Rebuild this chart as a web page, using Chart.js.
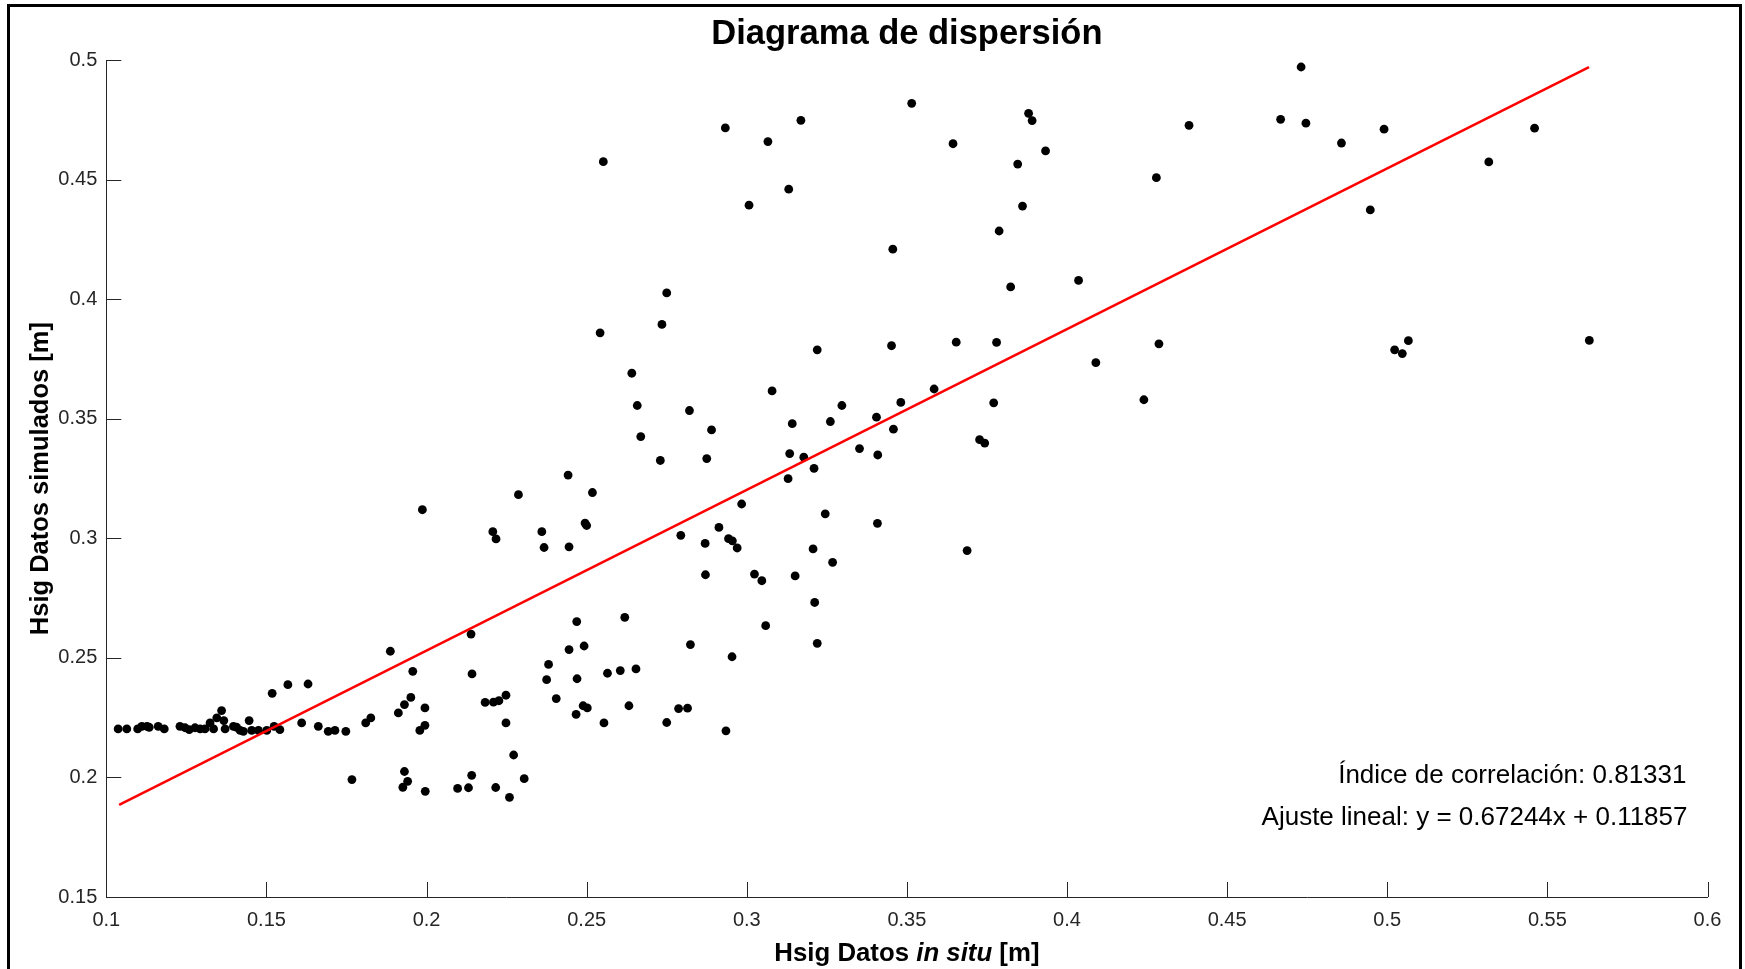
<!DOCTYPE html>
<html>
<head>
<meta charset="utf-8">
<title>Diagrama de dispersión</title>
<script src="https://cdn.jsdelivr.net/npm/chart.js@4.4.1/dist/chart.umd.min.js"></script>
<style>
  html, body { margin: 0; padding: 0; background: #fff; overflow: hidden; }
  #wrap { position: relative; width: 1745px; height: 969px; overflow: hidden; }
  #frame { position: absolute; left: 7px; top: 4px; width: 1735px; height: 1000px;
           border: 3px solid #000; box-sizing: border-box; pointer-events: none; }
  canvas { position: absolute; left: 0; top: 0; }
</style>
</head>
<body>
<div id="wrap">
  <canvas id="scatter" width="1745" height="969"></canvas>
  <div id="frame"></div>
</div>
<script>
"use strict";

/* ============================================================
   DATA
============================================================ */
const xTickLabels = ['0.1', '0.15', '0.2', '0.25', '0.3', '0.35', '0.4', '0.45', '0.5', '0.55', '0.6'];
const yTickLabels = ['0.15', '0.2', '0.25', '0.3', '0.35', '0.4', '0.45', '0.5'];

// [Hsig in situ, Hsig simulado]
const pointsUpper = [
  [0.3515, 0.4820], [0.2933, 0.4717], [0.3169, 0.4749], [0.3066, 0.4660], [0.2552, 0.4576],
  [0.3131, 0.4461], [0.3007, 0.4394], [0.3456, 0.4210], [0.2750, 0.4027], [0.2735, 0.3895],
  [0.2542, 0.3860], [0.3220, 0.3789], [0.3452, 0.3806], [0.2641, 0.3691], [0.3079, 0.3617],
  [0.2658, 0.3556], [0.2821, 0.3535], [0.3297, 0.3556], [0.3481, 0.3569], [0.2669, 0.3426],
  [0.2890, 0.3454], [0.3142, 0.3480], [0.3261, 0.3489], [0.3405, 0.3507], [0.3458, 0.3457],
  [0.2730, 0.3326], [0.2875, 0.3334], [0.3134, 0.3355], [0.3178, 0.3340], [0.3352, 0.3376],
  [0.3409, 0.3349], [0.3210, 0.3293], [0.3129, 0.3250], [0.2442, 0.3265]
];

const pointsRight = [
  [0.4731, 0.4972], [0.3880, 0.4778], [0.3891, 0.4748], [0.3644, 0.4651], [0.3933, 0.4621],
  [0.3846, 0.4566], [0.4381, 0.4728], [0.4667, 0.4753], [0.4746, 0.4737], [0.4279, 0.4509],
  [0.3861, 0.4390], [0.3788, 0.4286], [0.3824, 0.4052], [0.4036, 0.4079], [0.3654, 0.3821],
  [0.3780, 0.3820], [0.4287, 0.3814], [0.4090, 0.3735], [0.3585, 0.3625], [0.3771, 0.3567],
  [0.4240, 0.3580], [0.3727, 0.3413], [0.3743, 0.3399], [0.3688, 0.2949],
  [0.4857, 0.4654], [0.4990, 0.4712], [0.5460, 0.4716], [0.5317, 0.4575], [0.4947, 0.4374],
  [0.5066, 0.3827], [0.5023, 0.3789], [0.5047, 0.3773], [0.5631, 0.3828]
];

const pointsMiddle = [
  [0.2287, 0.3183], [0.2518, 0.3192], [0.2984, 0.3144], [0.2360, 0.3028], [0.2367, 0.2962],
  [0.2445, 0.2965], [0.2495, 0.3064], [0.2500, 0.3054], [0.2794, 0.3013], [0.2913, 0.3046],
  [0.2870, 0.2979], [0.2943, 0.2999], [0.2955, 0.2990], [0.2970, 0.2960], [0.3207, 0.2956],
  [0.3245, 0.3103], [0.3408, 0.3063], [0.3268, 0.2900], [0.2871, 0.2848], [0.3024, 0.2851],
  [0.3047, 0.2823], [0.3151, 0.2843], [0.3212, 0.2732], [0.3059, 0.2635], [0.3220, 0.2561],
  [0.2469, 0.2652], [0.2619, 0.2670], [0.2824, 0.2556], [0.2445, 0.2535], [0.2492, 0.2550],
  [0.2954, 0.2505], [0.2381, 0.2473], [0.2375, 0.2409], [0.2470, 0.2413], [0.2565, 0.2436],
  [0.2605, 0.2447], [0.2654, 0.2454], [0.2248, 0.2344], [0.2405, 0.2330], [0.2467, 0.2264],
  [0.2489, 0.2300], [0.2502, 0.2291], [0.2632, 0.2300], [0.2248, 0.2228], [0.2554, 0.2228],
  [0.2750, 0.2230], [0.2787, 0.2288], [0.2815, 0.2290], [0.2935, 0.2195], [0.2272, 0.2094],
  [0.2305, 0.1995], [0.2259, 0.1917]
];

const pointsLowLeft = [
  [0.1987, 0.3120], [0.2207, 0.3028], [0.2217, 0.2998], [0.2139, 0.2600], [0.1887, 0.2528],
  [0.1957, 0.2444], [0.2142, 0.2433], [0.1518, 0.2352], [0.1567, 0.2388], [0.1630, 0.2391],
  [0.1951, 0.2335], [0.1931, 0.2305], [0.1912, 0.2270], [0.1995, 0.2291], [0.2183, 0.2314],
  [0.2209, 0.2315], [0.2226, 0.2321], [0.1979, 0.2197], [0.1995, 0.2218], [0.1767, 0.1991],
  [0.1931, 0.2025], [0.1941, 0.1984], [0.1926, 0.1959], [0.1996, 0.1942], [0.2097, 0.1954],
  [0.2131, 0.1957], [0.2141, 0.2009], [0.2216, 0.1958]
];

const pointsBaseline = [
  [0.1037, 0.2203], [0.1064, 0.2203], [0.1098, 0.2203], [0.1111, 0.2214], [0.1127, 0.2214],
  [0.1134, 0.2210], [0.1162, 0.2214], [0.1181, 0.2203], [0.1230, 0.2214], [0.1246, 0.2208],
  [0.1259, 0.2200], [0.1277, 0.2208], [0.1293, 0.2203], [0.1308, 0.2203], [0.1324, 0.2228],
  [0.1335, 0.2203], [0.1345, 0.2249], [0.1360, 0.2280], [0.1367, 0.2238], [0.1371, 0.2203],
  [0.1397, 0.2214], [0.1407, 0.2210], [0.1418, 0.2197], [0.1428, 0.2193], [0.1446, 0.2238],
  [0.1454, 0.2197], [0.1475, 0.2197], [0.1501, 0.2197], [0.1524, 0.2214], [0.1542, 0.2200],
  [0.1610, 0.2228], [0.1662, 0.2214], [0.1693, 0.2193], [0.1714, 0.2197], [0.1748, 0.2193],
  [0.1810, 0.2228], [0.1826, 0.2249]
];

// fitted line end points
const fitX = [0.104, 0.563];
const fitY = [0.1885, 0.4971];

const chartTitle = 'Diagrama de dispersión';
const yAxisTitle = 'Hsig Datos simulados [m]';
const xAxisTitleParts = ['Hsig Datos ', 'in situ', ' [m]'];
const corrText = 'Índice de correlación: 0.81331';
const fitText = 'Ajuste lineal: y = 0.67244x + 0.11857';

/* ============================================================
   LAYOUT & STYLE
============================================================ */
const FONT = '"Liberation Sans", Arial, Helvetica, sans-serif';
const AXIS_COLOR = '#262626';
const CANVAS_W = 1745;
const CANVAS_H = 969;
const PLOT_LEFT = 106.3;
const PLOT_RIGHT = 1707.5;
const PLOT_TOP = 60.3;
const PLOT_BOTTOM = 897;
const TICK_LEN = 15;

/* ============================================================
   PLUGIN: inward ticks and all text
============================================================ */
const matlabLook = {
  id: 'matlabLook',
  beforeDatasetsDraw(chart) {
    const { ctx, chartArea: a, scales: { x, y } } = chart;
    ctx.save();
    ctx.strokeStyle = AXIS_COLOR;
    ctx.lineWidth = 1;
    ctx.beginPath();
    x.ticks.forEach((t, i) => {
      const px = Math.round(x.getPixelForTick(i)) + 0.5;
      ctx.moveTo(px, a.bottom);
      ctx.lineTo(px, a.bottom - TICK_LEN);
    });
    y.ticks.forEach((t, i) => {
      const py = Math.round(y.getPixelForTick(i)) + 0.5;
      ctx.moveTo(a.left, py);
      ctx.lineTo(a.left + TICK_LEN, py);
    });
    ctx.stroke();
    ctx.restore();
  },
  afterDraw(chart) {
    const { ctx, chartArea: a } = chart;
    const cx = (a.left + a.right) / 2;
    const cy = (a.top + a.bottom) / 2;
    ctx.save();
    ctx.fillStyle = '#000';
    ctx.textBaseline = 'alphabetic';

    // title
    ctx.font = 'bold 34.5px ' + FONT;
    ctx.textAlign = 'center';
    ctx.fillText(chartTitle, cx, 43.5);

    // x axis title (with italic part)
    const fonts = ['bold 25.8px ' + FONT, 'italic bold 25.8px ' + FONT, 'bold 25.8px ' + FONT];
    let total = 0;
    const widths = xAxisTitleParts.map((txt, i) => {
      ctx.font = fonts[i];
      const w = ctx.measureText(txt).width;
      total += w;
      return w;
    });
    let xx = cx - total / 2;
    ctx.textAlign = 'left';
    xAxisTitleParts.forEach((txt, i) => {
      ctx.font = fonts[i];
      ctx.fillText(txt, xx, 961);
      xx += widths[i];
    });

    // y axis title
    ctx.save();
    ctx.translate(48, cy);
    ctx.rotate(-Math.PI / 2);
    ctx.font = 'bold 25.5px ' + FONT;
    ctx.textAlign = 'center';
    ctx.fillText(yAxisTitle, 0, 0);
    ctx.restore();

    // annotations
    ctx.font = '26px ' + FONT;
    ctx.textAlign = 'right';
    ctx.fillStyle = '#000';
    ctx.fillText(corrText, a.right - 21, 783);
    ctx.fillText(fitText, a.right - 20, 825);
    ctx.restore();
  }
};

/* ============================================================
   CHART
============================================================ */
const allPoints = [].concat(pointsUpper, pointsRight, pointsMiddle, pointsLowLeft, pointsBaseline);
const xTickValues = xTickLabels.map(Number);
const yTickValues = yTickLabels.map(Number);

new Chart(document.getElementById('scatter').getContext('2d'), {
  type: 'scatter',
  data: {
    datasets: [
      {
        label: 'Ajuste lineal',
        type: 'line',
        data: fitX.map((v, i) => ({ x: v, y: fitY[i] })),
        borderColor: '#ff0000',
        borderWidth: 2.5,
        pointRadius: 0,
        fill: false,
        tension: 0
      },
      {
        label: 'Datos',
        data: allPoints.map(([px, py]) => ({ x: px, y: py })),
        backgroundColor: '#000',
        borderColor: '#000',
        borderWidth: 0,
        pointRadius: 4.4
      }
    ]
  },
  options: {
    responsive: false,
    animation: false,
    events: [],
    layout: { padding: { top: PLOT_TOP, right: CANVAS_W - PLOT_RIGHT, left: 0, bottom: 0 } },
    plugins: {
      legend: { display: false },
      tooltip: { enabled: false },
      title: { display: false }
    },
    scales: {
      x: {
        type: 'linear',
        min: 0.1,
        max: 0.6,
        afterBuildTicks: scale => { scale.ticks = xTickValues.map(v => ({ value: v })); },
        afterFit: scale => { scale.height = CANVAS_H - PLOT_BOTTOM; },
        grid: { display: false, drawTicks: false },
        border: { display: true, color: AXIS_COLOR, width: 1 },
        ticks: {
          color: AXIS_COLOR,
          padding: 11,
          maxRotation: 0,
          autoSkip: false,
          font: { family: FONT, size: 20 },
          callback: (v, i) => xTickLabels[i]
        }
      },
      y: {
        type: 'linear',
        min: 0.15,
        max: 0.5,
        afterBuildTicks: scale => { scale.ticks = yTickValues.map(v => ({ value: v })); },
        afterFit: scale => { scale.width = PLOT_LEFT; },
        grid: { display: false, drawTicks: false },
        border: { display: true, color: AXIS_COLOR, width: 1 },
        ticks: {
          color: AXIS_COLOR,
          padding: 9,
          autoSkip: false,
          font: { family: FONT, size: 20 },
          callback: (v, i) => yTickLabels[i]
        }
      }
    }
  },
  plugins: [matlabLook]
});
</script>
</body>
</html>
